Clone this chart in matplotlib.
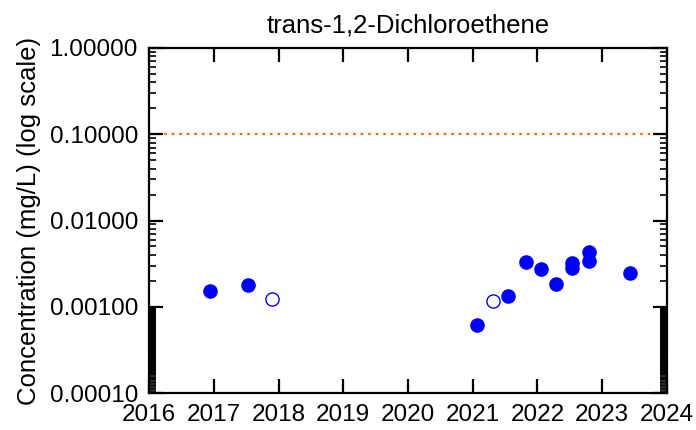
import numpy as np
import matplotlib
matplotlib.use("Agg")
import matplotlib.pyplot as plt
from matplotlib.ticker import FixedLocator, FormatStrFormatter, NullFormatter

plt.rcParams["font.family"] = ["Liberation Sans", "DejaVu Sans"]

# ── DATA ──────────────────────────────────────────────────
TITLE = "trans-1,2-Dichloroethene"
YLABEL = "Concentration (mg/L) (log scale)"

# detected results (filled)
det_year = [2016.94, 2017.53, 2021.07, 2021.55, 2021.82, 2022.05, 2022.28,
            2022.53, 2022.53, 2022.80, 2022.80, 2023.43]
det_conc = [0.00152, 0.00179, 0.00061, 0.00133, 0.00333, 0.00274, 0.00184,
            0.00319, 0.00279, 0.00435, 0.00342, 0.00244]

# non-detects (open)
nd_year = [2017.90, 2021.32]
nd_conc = [0.00123, 0.00116]

LIMIT = 0.1
X_TICKS = list(range(2016, 2025))
Y_TICKS = [0.0001, 0.001, 0.01, 0.1, 1.0]

# ── PLOT ──────────────────────────────────────────────────
fig = plt.figure(figsize=(6.96, 4.30), dpi=100)
ax = fig.add_axes([0.2141, 0.0860, 0.9583 - 0.2141, 0.8884 - 0.0860])

ax.axhline(LIMIT, color="#FF6600", linestyle=(0, (1.2, 2.2)), linewidth=1.6, zorder=1)

ax.plot(det_year, det_conc, "o", color="#0000FF", markersize=10.5,
        markeredgewidth=0, linestyle="none", zorder=3)
ax.plot(nd_year, nd_conc, "o", markerfacecolor="white", markeredgecolor="#0000FF",
        markersize=9.5, markeredgewidth=1.0, linestyle="none", zorder=3)

ax.set_yscale("log")
ax.set_xlim(2016, 2024)
ax.set_ylim(0.0001, 1.0)

ax.set_xticks(X_TICKS)
ax.set_xticklabels([str(y) for y in X_TICKS])
ax.yaxis.set_major_locator(FixedLocator(Y_TICKS))
ax.yaxis.set_major_formatter(FormatStrFormatter("%.5f"))

# minor ticks: 2..9 per decade, bottom decade drawn very dense
minor = [m * 10.0 ** e for e in range(-3, 0) for m in range(2, 10)]
minor += list(np.arange(0.0001, 0.001, 0.000005))
ax.yaxis.set_minor_locator(FixedLocator(minor))
ax.yaxis.set_minor_formatter(NullFormatter())

ax.tick_params(axis="both", which="major", direction="in", length=10, width=1.6,
               labelsize=17.5, top=True, right=True, pad=8)
ax.tick_params(axis="y", which="minor", direction="in", length=5, width=1.2,
               left=True, right=True)
ax.tick_params(axis="x", which="minor", bottom=False, top=False)

for s in ax.spines.values():
    s.set_linewidth(1.6)

ax.set_title(TITLE, fontsize=18.5, pad=11)
ax.set_ylabel(YLABEL, fontsize=18.5, labelpad=6)

fig.savefig("out.png", dpi=100)
